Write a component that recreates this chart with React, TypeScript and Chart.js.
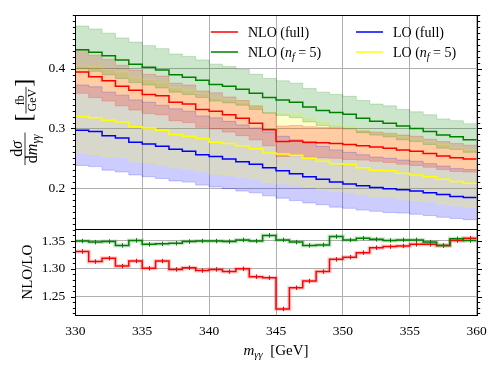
import { useEffect, useRef } from "react";
import { Chart, registerables } from "chart.js";
Chart.register(...registerables);

const SERIF = '"Liberation Serif", "Times New Roman", serif';
const GRID = "#b0b0b0";

const binEdges = [330, 331, 332, 333, 334, 335, 336, 337, 338, 339, 340, 341, 342, 343, 344, 345, 346, 347, 348, 349, 350, 351, 352, 353, 354, 355, 356, 357, 358, 359, 360];
const xTicks = [330, 335, 340, 345, 350, 355, 360];
const yTicksMain = [0.2, 0.3, 0.4];
const yTicksRatio = [1.25, 1.3, 1.35];

const nloFull = [0.395, 0.387, 0.380, 0.371, 0.364, 0.357, 0.355, 0.344, 0.341, 0.332, 0.329, 0.323, 0.317, 0.309, 0.298, 0.278, 0.279, 0.277, 0.276, 0.275, 0.273, 0.271, 0.269, 0.267, 0.264, 0.262, 0.258, 0.254, 0.251, 0.249];
const nloFullUp = [0.432, 0.423, 0.416, 0.406, 0.398, 0.391, 0.388, 0.376, 0.373, 0.363, 0.360, 0.353, 0.347, 0.338, 0.326, 0.304, 0.305, 0.303, 0.302, 0.301, 0.299, 0.296, 0.294, 0.292, 0.289, 0.287, 0.282, 0.278, 0.275, 0.272];
const nloFullDn = [0.359, 0.352, 0.346, 0.338, 0.331, 0.325, 0.323, 0.313, 0.310, 0.302, 0.299, 0.294, 0.288, 0.281, 0.271, 0.253, 0.254, 0.252, 0.251, 0.250, 0.248, 0.247, 0.245, 0.243, 0.240, 0.238, 0.235, 0.231, 0.228, 0.227];

const nloNf5 = [0.432, 0.428, 0.422, 0.415, 0.408, 0.403, 0.398, 0.390, 0.386, 0.381, 0.374, 0.371, 0.366, 0.359, 0.352, 0.348, 0.344, 0.336, 0.330, 0.327, 0.324, 0.317, 0.312, 0.309, 0.304, 0.300, 0.295, 0.289, 0.286, 0.281];
const nloNf5Up = [0.472, 0.467, 0.460, 0.452, 0.445, 0.439, 0.434, 0.425, 0.421, 0.415, 0.408, 0.404, 0.399, 0.391, 0.384, 0.380, 0.376, 0.367, 0.361, 0.357, 0.354, 0.347, 0.341, 0.338, 0.332, 0.328, 0.323, 0.316, 0.313, 0.308];
const nloNf5Dn = [0.400, 0.396, 0.390, 0.384, 0.377, 0.373, 0.368, 0.361, 0.357, 0.352, 0.346, 0.343, 0.339, 0.332, 0.326, 0.322, 0.318, 0.311, 0.305, 0.302, 0.300, 0.293, 0.289, 0.286, 0.281, 0.278, 0.273, 0.267, 0.265, 0.260];

const loNf5 = [0.320, 0.318, 0.314, 0.311, 0.303, 0.301, 0.297, 0.290, 0.287, 0.283, 0.277, 0.275, 0.271, 0.266, 0.259, 0.257, 0.255, 0.250, 0.245, 0.241, 0.240, 0.234, 0.230, 0.229, 0.225, 0.222, 0.219, 0.215, 0.211, 0.208];
const loNf5Up = [0.406, 0.404, 0.399, 0.395, 0.385, 0.382, 0.377, 0.368, 0.364, 0.359, 0.352, 0.349, 0.344, 0.338, 0.329, 0.326, 0.324, 0.318, 0.311, 0.306, 0.305, 0.297, 0.292, 0.291, 0.286, 0.282, 0.278, 0.273, 0.268, 0.264];
const loNf5Dn = [0.258, 0.256, 0.253, 0.251, 0.244, 0.243, 0.239, 0.234, 0.231, 0.228, 0.223, 0.222, 0.218, 0.214, 0.209, 0.207, 0.206, 0.202, 0.197, 0.194, 0.193, 0.189, 0.185, 0.185, 0.181, 0.179, 0.177, 0.173, 0.170, 0.168];

const loFull = [0.297, 0.295, 0.288, 0.284, 0.277, 0.274, 0.270, 0.265, 0.262, 0.256, 0.253, 0.249, 0.244, 0.240, 0.234, 0.229, 0.224, 0.219, 0.215, 0.210, 0.207, 0.204, 0.201, 0.199, 0.197, 0.195, 0.192, 0.189, 0.186, 0.184];
const loFullUp = [0.373, 0.370, 0.361, 0.356, 0.348, 0.344, 0.339, 0.333, 0.329, 0.321, 0.318, 0.312, 0.306, 0.301, 0.294, 0.287, 0.281, 0.275, 0.270, 0.264, 0.260, 0.256, 0.252, 0.250, 0.247, 0.245, 0.241, 0.237, 0.233, 0.231];
const loFullDn = [0.238, 0.236, 0.230, 0.227, 0.222, 0.219, 0.216, 0.212, 0.210, 0.205, 0.202, 0.199, 0.195, 0.192, 0.187, 0.183, 0.179, 0.175, 0.172, 0.168, 0.166, 0.163, 0.161, 0.159, 0.158, 0.156, 0.154, 0.151, 0.149, 0.147];

const ratioFull = [1.331, 1.313, 1.319, 1.305, 1.314, 1.301, 1.314, 1.299, 1.302, 1.297, 1.299, 1.295, 1.300, 1.286, 1.284, 1.228, 1.266, 1.278, 1.295, 1.317, 1.321, 1.329, 1.338, 1.340, 1.341, 1.344, 1.344, 1.342, 1.351, 1.355];
const ratioNf5 = [1.350, 1.348, 1.349, 1.342, 1.351, 1.344, 1.345, 1.346, 1.349, 1.350, 1.350, 1.349, 1.352, 1.350, 1.360, 1.352, 1.348, 1.342, 1.343, 1.358, 1.352, 1.355, 1.353, 1.351, 1.352, 1.352, 1.348, 1.342, 1.354, 1.351];
const ratioFullErr = [0.004, 0.004, 0.004, 0.004, 0.004, 0.004, 0.004, 0.004, 0.004, 0.004, 0.004, 0.004, 0.004, 0.004, 0.004, 0.004, 0.004, 0.004, 0.004, 0.004, 0.004, 0.004, 0.004, 0.004, 0.004, 0.004, 0.004, 0.004, 0.004, 0.004];
const ratioNf5Err = [0.004, 0.004, 0.004, 0.004, 0.004, 0.004, 0.004, 0.004, 0.004, 0.004, 0.004, 0.004, 0.004, 0.004, 0.004, 0.004, 0.004, 0.004, 0.004, 0.004, 0.004, 0.004, 0.004, 0.004, 0.004, 0.004, 0.004, 0.004, 0.004, 0.004];

function steps(vals: number[]) {
  const pts = vals.map((v, i) => ({ x: binEdges[i], y: v }));
  pts.push({ x: binEdges[vals.length], y: vals[vals.length - 1] });
  return pts;
}

function lineDs(vals: number[], color: string, width = 1.5) {
  return { data: steps(vals), borderColor: color, backgroundColor: color, borderWidth: width, stepped: true, pointRadius: 0, pointHoverRadius: 0, fill: false };
}

function bandDs(up: number[], dn: number[], rgb: string) {
  const c = `rgba(${rgb},0.2)`;
  return [
    { data: steps(up), borderColor: c, backgroundColor: c, borderWidth: 1, stepped: true, pointRadius: 0, pointHoverRadius: 0, fill: "+1" },
    { data: steps(dn), borderColor: c, backgroundColor: c, borderWidth: 1, stepped: true, pointRadius: 0, pointHoverRadius: 0, fill: false },
  ];
}

type Part = { t: string; size: number; italic?: boolean; dy?: number };
function setFont(ctx: CanvasRenderingContext2D, p: Part) {
  ctx.font = `${p.italic ? "italic " : ""}${p.size}px ${SERIF}`;
}
function measureParts(ctx: CanvasRenderingContext2D, parts: Part[]) {
  let w = 0;
  for (const p of parts) { setFont(ctx, p); w += ctx.measureText(p.t).width; }
  return w;
}
function drawParts(ctx: CanvasRenderingContext2D, parts: Part[], x: number, y: number) {
  let cx = x;
  ctx.textAlign = "left";
  ctx.textBaseline = "alphabetic";
  for (const p of parts) {
    setFont(ctx, p);
    ctx.fillText(p.t, cx, y + (p.dy || 0));
    cx += ctx.measureText(p.t).width;
  }
  return cx - x;
}

function frameAndTicks(chart: any, minorStep: number, majorEvery: number) {
  const { ctx, chartArea: a } = chart;
  const y = chart.scales.y;
  ctx.save();
  ctx.strokeStyle = "#000";
  ctx.lineWidth = 1;
  const kMin = Math.ceil(y.min / minorStep - 1e-6);
  const kMax = Math.floor(y.max / minorStep + 1e-6);
  const L = Math.round(a.left) + 0.5;
  const R = Math.round(a.right) + 0.5;
  ctx.beginPath();
  for (let k = kMin; k <= kMax; k++) {
    const major = k % majorEvery === 0;
    const py = Math.round(y.getPixelForValue(k * minorStep)) + 0.5;
    const len = major ? 4.5 : 2.7;
    ctx.moveTo(L - len, py); ctx.lineTo(L, py);
    ctx.moveTo(R, py); ctx.lineTo(R + len, py);
  }
  ctx.stroke();
  const T = Math.round(a.top) + 0.5;
  const B = Math.round(a.bottom) + 0.5;
  ctx.strokeRect(L, T, R - L, B - T);
  ctx.restore();
}

const legendItems: { color: string; parts: Part[]; col: number; row: number }[] = [
  { color: "#ff0000", parts: [{ t: "NLO (full)", size: 14 }], col: 0, row: 0 },
  { color: "#008000", parts: [{ t: "NLO (", size: 14 }, { t: "n", size: 14, italic: true }, { t: "f", size: 10, italic: true, dy: 3 }, { t: " = 5)", size: 14 }], col: 0, row: 1 },
  { color: "#0000ff", parts: [{ t: "LO (full)", size: 14 }], col: 1, row: 0 },
  { color: "#ffff00", parts: [{ t: "LO (", size: 14 }, { t: "n", size: 14, italic: true }, { t: "f", size: 10, italic: true, dy: 3 }, { t: " = 5)", size: 14 }], col: 1, row: 1 },
];

const topDecor = {
  id: "topDecor",
  afterDraw(chart: any) {
    frameAndTicks(chart, 0.01, 10);
    const ctx: CanvasRenderingContext2D = chart.ctx;
    ctx.save();
    ctx.fillStyle = "#000";
    // legend
    const colX = [211, 356];
    const rowY = [32, 52];
    for (const it of legendItems) {
      const x0 = colX[it.col];
      const yy = rowY[it.row];
      ctx.strokeStyle = it.color;
      ctx.lineWidth = 1.5;
      ctx.beginPath();
      ctx.moveTo(x0, yy); ctx.lineTo(x0 + 27, yy);
      ctx.stroke();
      drawParts(ctx, it.parts, x0 + 37, yy + 4.8);
    }
    // y title
    const fs = 16, ss = 11.5, fr = 12;
    const num1: Part[] = [{ t: "d", size: fs }, { t: "σ", size: fs, italic: true }];
    const den1: Part[] = [{ t: "d", size: fs }, { t: "m", size: fs, italic: true }, { t: "γγ", size: ss, italic: true, dy: 3 }];
    const num2: Part[] = [{ t: "fb", size: fr }];
    const den2: Part[] = [{ t: "GeV", size: fr }];
    const wn1 = measureParts(ctx, num1), wd1 = measureParts(ctx, den1);
    const wn2 = measureParts(ctx, num2), wd2 = measureParts(ctx, den2);
    const w1 = Math.max(wn1, wd1) + 4;
    const w2 = Math.max(wn2, wd2) + 4;
    ctx.font = `24px ${SERIF}`;
    const wb = ctx.measureText("[").width;
    const gap = 11;
    const total = w1 + gap + wb + w2 + wb;
    const a = chart.chartArea;
    const cy = (a.top + a.bottom) / 2;
    ctx.translate(26, cy);
    ctx.rotate(-Math.PI / 2);
    let x0 = -total / 2;
    ctx.strokeStyle = "#000";
    ctx.lineWidth = 0.8;
    ctx.beginPath(); ctx.moveTo(x0, -1); ctx.lineTo(x0 + w1, -1); ctx.stroke();
    drawParts(ctx, num1, x0 + (w1 - wn1) / 2, -4);
    drawParts(ctx, den1, x0 + (w1 - wd1) / 2, 11);
    x0 += w1 + gap;
    ctx.font = `24px ${SERIF}`;
    ctx.fillText("[", x0, 5);
    x0 += wb;
    ctx.beginPath(); ctx.moveTo(x0, 0); ctx.lineTo(x0 + w2, 0); ctx.stroke();
    drawParts(ctx, num2, x0 + (w2 - wn2) / 2, -2.5);
    drawParts(ctx, den2, x0 + (w2 - wd2) / 2, 9.5);
    x0 += w2;
    ctx.font = `24px ${SERIF}`;
    ctx.fillText("]", x0, 5);
    ctx.restore();
  },
};

const botDecor = {
  id: "botDecor",
  afterDatasetsDraw(chart: any) {
    const ctx: CanvasRenderingContext2D = chart.ctx;
    const x = chart.scales.x, y = chart.scales.y;
    ctx.save();
    ctx.lineWidth = 1;
    const sets: [number[], number[], string][] = [[ratioFull, ratioFullErr, "#ff0000"], [ratioNf5, ratioNf5Err, "#008000"]];
    for (const [vals, errs, col] of sets) {
      ctx.strokeStyle = col;
      ctx.beginPath();
      vals.forEach((v, i) => {
        const px = Math.round(x.getPixelForValue((binEdges[i] + binEdges[i + 1]) / 2)) + 0.5;
        ctx.moveTo(px, y.getPixelForValue(v - errs[i]));
        ctx.lineTo(px, y.getPixelForValue(v + errs[i]));
      });
      ctx.stroke();
    }
    ctx.restore();
  },
  afterDraw(chart: any) {
    frameAndTicks(chart, 0.01, 5);
    const ctx: CanvasRenderingContext2D = chart.ctx;
    const a = chart.chartArea;
    ctx.save();
    ctx.fillStyle = "#000";
    // x title
    const xt: Part[] = [{ t: "m", size: 15, italic: true }, { t: "γγ", size: 10.5, italic: true, dy: 3 }, { t: "  [GeV]", size: 15 }];
    const w = measureParts(ctx, xt);
    drawParts(ctx, xt, (a.left + a.right) / 2 - w / 2, 126);
    // y title
    const cy = (a.top + a.bottom) / 2;
    ctx.translate(32, cy);
    ctx.rotate(-Math.PI / 2);
    ctx.font = `15px ${SERIF}`;
    ctx.textAlign = "center";
    ctx.textBaseline = "alphabetic";
    ctx.fillText("NLO/LO", 0, 0);
    ctx.restore();
  },
};

const tickFont = { family: SERIF, size: 13.5 };

export default function App() {
  const topRef = useRef<HTMLCanvasElement>(null);
  const botRef = useRef<HTMLCanvasElement>(null);

  useEffect(() => {
    const topChart = new Chart(topRef.current as HTMLCanvasElement, {
      type: "line",
      data: {
        datasets: [
          lineDs(nloFull, "#ff0000"),
          lineDs(nloNf5, "#008000"),
          lineDs(loFull, "#0000ff"),
          lineDs(loNf5, "#ffff00"),
          ...bandDs(nloNf5Up, nloNf5Dn, "0,128,0"),
          ...bandDs(nloFullUp, nloFullDn, "255,0,0"),
          ...bandDs(loNf5Up, loNf5Dn, "255,255,0"),
          ...bandDs(loFullUp, loFullDn, "0,0,255"),
        ] as any,
      },
      options: {
        animation: false,
        responsive: false,
        maintainAspectRatio: false,
        events: [],
        layout: { padding: { top: 15, right: 21.3, left: 0, bottom: 0 } },
        plugins: { legend: { display: false }, tooltip: { enabled: false }, filler: { drawTime: "beforeDatasetsDraw" } } as any,
        scales: {
          x: {
            type: "linear", min: 330, max: 360,
            afterBuildTicks: (s: any) => { s.ticks = xTicks.map((v) => ({ value: v })); },
            ticks: { display: false },
            grid: { color: GRID, lineWidth: 1, drawTicks: false },
            border: { display: false },
            afterFit: (s: any) => { s.height = 1; s.paddingLeft = 0; s.paddingRight = 0; },
          },
          y: {
            type: "linear", min: 0.1313, max: 0.4905,
            afterBuildTicks: (s: any) => { s.ticks = yTicksMain.map((v) => ({ value: v })); },
            ticks: { font: tickFont, color: "#000", padding: 10, callback: (v: any) => Number(v).toFixed(1) },
            grid: { color: GRID, lineWidth: 1, drawTicks: false },
            border: { display: false },
            afterFit: (s: any) => { s.width = 75.3; s.paddingTop = 0; s.paddingBottom = 0; },
          },
        } as any,
      },
      plugins: [topDecor],
    });

    const botChart = new Chart(botRef.current as HTMLCanvasElement, {
      type: "line",
      data: {
        datasets: [
          lineDs(ratioNf5, "#008000"),
          lineDs(ratioFull, "#ff0000"),
          lineDs(ratioNf5, "rgba(0,128,0,0.2)", 4),
          lineDs(ratioFull, "rgba(255,0,0,0.2)", 4),
        ] as any,
      },
      options: {
        animation: false,
        responsive: false,
        maintainAspectRatio: false,
        events: [],
        layout: { padding: { top: 0.3, right: 21.3, left: 0, bottom: 0 } },
        plugins: { legend: { display: false }, tooltip: { enabled: false } },
        scales: {
          x: {
            type: "linear", min: 330, max: 360,
            afterBuildTicks: (s: any) => { s.ticks = xTicks.map((v) => ({ value: v })); },
            ticks: { font: tickFont, color: "#000", padding: 8, maxRotation: 0, autoSkip: false, callback: (v: any) => String(v) },
            grid: { color: GRID, lineWidth: 1, drawTicks: false },
            border: { display: false },
            afterFit: (s: any) => { s.height = 54; s.paddingLeft = 0; s.paddingRight = 0; },
          },
          y: {
            type: "linear", min: 1.2171, max: 1.371,
            afterBuildTicks: (s: any) => { s.ticks = yTicksRatio.map((v) => ({ value: v })); },
            ticks: { font: tickFont, color: "#000", padding: 10, callback: (v: any) => Number(v).toFixed(2) },
            grid: { color: GRID, lineWidth: 1, drawTicks: false },
            border: { display: false },
            afterFit: (s: any) => { s.width = 75.3; s.paddingTop = 0; s.paddingBottom = 0; },
          },
        } as any,
      },
      plugins: [botDecor],
    });

    return () => {
      topChart.destroy();
      botChart.destroy();
    };
  }, []);

  return (
    <div style={{ position: "fixed", left: 0, top: 0, width: 498, height: 369, background: "#fff" }}>
      <canvas ref={topRef} width={498} height={230} style={{ position: "absolute", left: 0, top: 0, width: 498, height: 230 }} />
      <canvas ref={botRef} width={498} height={140} style={{ position: "absolute", left: 0, top: 229, width: 498, height: 140 }} />
    </div>
  );
}
